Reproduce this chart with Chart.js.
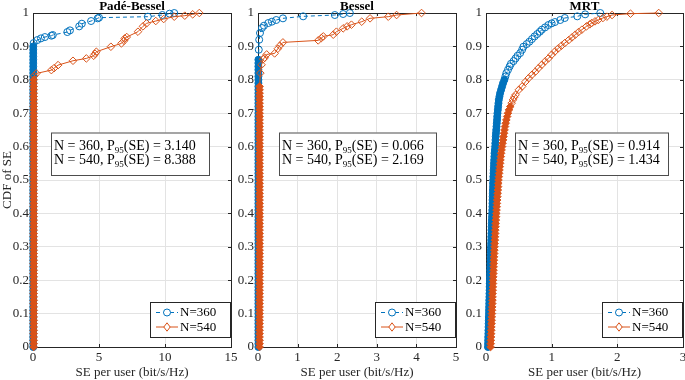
<!DOCTYPE html>
<html>
<head>
<meta charset="utf-8">
<script src="https://cdn.jsdelivr.net/npm/chart.js@4.4.0/dist/chart.umd.min.js"></script>
<style>
  html, body { margin: 0; padding: 0; background: #fff; }
  #wrap { position: relative; width: 685px; height: 380px; }
  #wrap canvas { position: absolute; left: 0; top: 0; }
</style>
</head>
<body>
<div id="wrap">
  <canvas id="pade" width="685" height="380"></canvas>
  <canvas id="bessel" width="685" height="380"></canvas>
  <canvas id="mrt" width="685" height="380"></canvas>
</div>
<script>
// ---- data ----
const panelTitles = ["Padé-Bessel", "Bessel", "MRT"];
const seriesLabels = ["N=360", "N=540"];
const xMax = [15, 5, 3];
const xStep = [5, 1, 1];
const p95N360 = ["3.140", "0.066", "0.914"];
const p95N540 = ["8.388", "2.169", "1.434"];

// CDF levels of the lower part of each curve (one user every ~0.01)
const lowCdf = [0, 0.01, 0.02, 0.03, 0.04, 0.05, 0.06, 0.07, 0.08, 0.09, 0.1, 0.11, 0.12, 0.13, 0.14, 0.15,
  0.16, 0.17, 0.18, 0.19, 0.2, 0.21, 0.22, 0.23, 0.24, 0.25, 0.26, 0.27, 0.28, 0.29, 0.3, 0.31, 0.32, 0.33,
  0.34, 0.35, 0.36, 0.37, 0.38, 0.39, 0.4, 0.41, 0.42, 0.43, 0.44, 0.45, 0.46, 0.47, 0.48, 0.49, 0.5, 0.51,
  0.52, 0.53, 0.54, 0.55, 0.56, 0.57, 0.58, 0.59, 0.6, 0.61, 0.62, 0.63, 0.64, 0.65, 0.66, 0.67, 0.68, 0.69,
  0.7, 0.71, 0.72, 0.73, 0.74, 0.75, 0.76, 0.77, 0.78, 0.79, 0.8, 0.81, 0.82, 0.83, 0.84, 0.85, 0.86, 0.87,
  0.88, 0.89, 0.9];

// [SE of the near-zero users, highest CDF level they reach]
const padeZero360 = [0.02, 0.9];
const padeZero540 = [0.05, 0.8];
const besselZero360 = [0.01, 0.86];
const besselZero540 = [0.04, 0.78];

const padeTail360 = [[0.05, 0.91], [0.33, 0.919], [0.6, 0.924], [0.9, 0.928], [1.4, 0.932], [1.5, 0.934],
  [2.6, 0.943], [2.8, 0.948], [3.5, 0.96], [3.7, 0.968], [4.4, 0.976], [4.9, 0.984], [5.0, 0.986],
  [8.7, 0.989], [9.8, 0.994], [10.35, 0.998], [10.7, 1.0]];
const padeTail540 = [[0.1, 0.812], [0.25, 0.819], [1.39, 0.829], [1.6, 0.835], [1.9, 0.844], [3.03, 0.857],
  [4.04, 0.864], [4.6, 0.872], [4.7, 0.878], [4.8, 0.884], [5.9, 0.899], [6.7, 0.909], [6.9, 0.917],
  [6.95, 0.924], [7.1, 0.928], [7.95, 0.944], [8.33, 0.96], [8.6, 0.969], [9.3, 0.976], [9.9, 0.982],
  [10.7, 0.989], [11.5, 0.992], [12.1, 0.996], [12.6, 1.0]];

const besselTail360 = [[0.02, 0.89], [0.03, 0.92], [0.05, 0.94], [0.1, 0.955], [0.15, 0.962], [0.26, 0.97],
  [0.35, 0.974], [0.46, 0.979], [0.63, 0.984], [1.14, 0.99], [1.94, 0.994], [2.15, 0.997], [2.32, 1.0]];
const besselTail540 = [[0.06, 0.82], [0.09, 0.845], [0.13, 0.862], [0.17, 0.866], [0.22, 0.876], [0.42, 0.879],
  [0.5, 0.893], [0.55, 0.902], [0.63, 0.912], [1.52, 0.918], [1.6, 0.925], [1.65, 0.93], [1.9, 0.935],
  [1.98, 0.944], [2.15, 0.954], [2.25, 0.96], [2.36, 0.965], [2.62, 0.974], [2.83, 0.984], [3.29, 0.989],
  [3.5, 0.994], [4.13, 1.0]];

// MRT: SE at the lowCdf levels, then the upper part as [SE, CDF]
const mrtLow360 = [0.03, 0.031, 0.033, 0.034, 0.036, 0.037, 0.039, 0.04, 0.042, 0.043, 0.045, 0.046, 0.048,
  0.049, 0.05, 0.052, 0.053, 0.055, 0.056, 0.058, 0.06, 0.061, 0.063, 0.064, 0.066, 0.067, 0.069, 0.07,
  0.072, 0.074, 0.076, 0.078, 0.08, 0.081, 0.083, 0.084, 0.086, 0.088, 0.09, 0.092, 0.094, 0.096, 0.098,
  0.099, 0.1, 0.102, 0.104, 0.105, 0.107, 0.108, 0.11, 0.112, 0.115, 0.117, 0.12, 0.122, 0.125, 0.128,
  0.13, 0.135, 0.14, 0.142, 0.145, 0.148, 0.152, 0.156, 0.16, 0.164, 0.168, 0.171, 0.175, 0.18, 0.185,
  0.19, 0.195];
const mrtHigh360 = [[0.205, 0.75], [0.215, 0.76], [0.23, 0.77], [0.245, 0.78], [0.26, 0.79], [0.28, 0.8],
  [0.295, 0.81], [0.31, 0.82], [0.335, 0.83], [0.36, 0.84], [0.38, 0.848], [0.42, 0.856], [0.45, 0.864],
  [0.48, 0.872], [0.52, 0.88], [0.55, 0.89], [0.57, 0.899], [0.62, 0.907], [0.66, 0.914], [0.7, 0.922],
  [0.74, 0.93], [0.78, 0.937], [0.82, 0.944], [0.85, 0.95], [0.9, 0.957], [0.95, 0.964], [1.0, 0.969],
  [1.05, 0.973], [1.13, 0.979], [1.2, 0.985], [1.39, 0.99], [1.51, 0.996], [1.74, 1.0]];
const mrtLow540 = [0.07, 0.072, 0.074, 0.076, 0.078, 0.08, 0.082, 0.084, 0.086, 0.088, 0.09, 0.092, 0.094,
  0.096, 0.098, 0.099, 0.1, 0.102, 0.104, 0.106, 0.108, 0.11, 0.112, 0.114, 0.116, 0.118, 0.12, 0.122,
  0.125, 0.127, 0.13, 0.132, 0.135, 0.137, 0.14, 0.142, 0.145, 0.147, 0.15, 0.153, 0.157, 0.16, 0.163,
  0.166, 0.17, 0.173, 0.177, 0.18, 0.184, 0.187, 0.19, 0.195, 0.2, 0.205, 0.21, 0.215, 0.22, 0.225, 0.23,
  0.237, 0.245, 0.252, 0.26, 0.267, 0.275, 0.282, 0.29, 0.3, 0.31, 0.322, 0.335];
const mrtHigh540 = [[0.35, 0.71], [0.37, 0.72], [0.39, 0.73], [0.41, 0.74], [0.43, 0.748], [0.45, 0.755],
  [0.5, 0.77], [0.55, 0.78], [0.6, 0.794], [0.65, 0.805], [0.7, 0.815], [0.75, 0.824], [0.8, 0.835],
  [0.85, 0.845], [0.9, 0.855], [0.95, 0.864], [1.0, 0.875], [1.05, 0.885], [1.1, 0.894], [1.15, 0.902],
  [1.2, 0.91], [1.26, 0.919], [1.31, 0.927], [1.36, 0.935], [1.41, 0.943], [1.46, 0.95], [1.53, 0.96],
  [1.58, 0.966], [1.61, 0.97], [1.66, 0.975], [1.71, 0.979], [1.78, 0.985], [1.84, 0.989], [1.92, 0.994],
  [2.2, 0.998], [2.63, 1.0]];

// ---- styling / layout ----
const BLUE = "#0072BD";
const ORANGE = "#D95319";
const AXIS = "#262626";
const FONT = '"Liberation Serif", "Times New Roman", serif';

const plotAreas = [
  { left: 33, right: 231, axisW: 33, textBox: [51, 132.5, 158, 42.5] },
  { left: 258, right: 456, axisW: 30, textBox: [279, 132.5, 157, 42.5] },
  { left: 486, right: 683, axisW: 30, textBox: [515, 132.5, 153, 42.5] }
];
const AREA_TOP = 13;
const AREA_BOTTOM = 347;
const CANVAS_W = 685;
const CANVAS_H = 380;

function withStem(zero, tail) {
  const stem = lowCdf.filter(c => c <= zero[1] + 1e-9).map(c => [zero[0], c]);
  return stem.concat(tail);
}
function withLow(low, high) {
  return low.map((x, i) => [x, lowCdf[i]]).concat(high);
}

const panelSeries = [
  [withStem(padeZero360, padeTail360), withStem(padeZero540, padeTail540)],
  [withStem(besselZero360, besselTail360), withStem(besselZero540, besselTail540)],
  [withLow(mrtLow360, mrtHigh360), withLow(mrtLow540, mrtHigh540)]
];
// markers overlap into a solid band below these CDF levels
const solidBelow = [[0.9, 0.8], [0.86, 0.78], [0.8, 0.72]];

function drawP95Line(ctx, x, y, n, val) {
  ctx.font = "14px " + FONT;
  const a = "N = " + n + ", P";
  ctx.fillText(a, x, y);
  x += ctx.measureText(a).width;
  ctx.font = "9px " + FONT;
  ctx.fillText("95", x, y + 3);
  x += ctx.measureText("95").width;
  ctx.font = "14px " + FONT;
  ctx.fillText("(SE) = " + val, x, y);
}

const decor = {
  id: "decor",
  beforeDatasetsDraw(chart, args, o) {
    const { ctx, chartArea: a, scales } = chart;
    ctx.save();
    ctx.strokeStyle = AXIS;
    ctx.lineWidth = 1;
    ctx.strokeRect(a.left + 0.5, a.top + 0.5, a.right - a.left, a.bottom - a.top);
    // inward tick marks on all four sides
    ctx.beginPath();
    scales.x.ticks.forEach(t => {
      const px = Math.round(scales.x.getPixelForValue(t.value)) + 0.5;
      ctx.moveTo(px, a.bottom); ctx.lineTo(px, a.bottom - 3);
      ctx.moveTo(px, a.top); ctx.lineTo(px, a.top + 3);
    });
    scales.y.ticks.forEach(t => {
      const py = Math.round(scales.y.getPixelForValue(t.value)) + 0.5;
      ctx.moveTo(a.left, py); ctx.lineTo(a.left + 3, py);
      ctx.moveTo(a.right, py); ctx.lineTo(a.right - 3, py);
    });
    ctx.stroke();
    ctx.restore();
  },
  afterDatasetsDraw(chart, args, o) {
    const { ctx, chartArea: a } = chart;
    ctx.save();
    // panel title
    ctx.fillStyle = "#000";
    ctx.font = "bold 13px " + FONT;
    ctx.textAlign = "center";
    ctx.textBaseline = "middle";
    ctx.fillText(o.title, (a.left + a.right) / 2, 6.5);

    // P95 text box
    const [bx, by, bw, bh] = o.textBox;
    ctx.fillStyle = "#fff";
    ctx.fillRect(bx, by, bw, bh);
    ctx.strokeStyle = "#4d4d4d";
    ctx.strokeRect(bx + 0.5, by + 0.5, bw, bh);
    ctx.fillStyle = "#000";
    ctx.textAlign = "left";
    ctx.textBaseline = "alphabetic";
    drawP95Line(ctx, bx + 3, by + 17, "360", o.p360);
    drawP95Line(ctx, bx + 3, by + 31, "540", o.p540);

    // legend in the lower right corner
    const lw = 80, lh = 35;
    const lx = a.right - 1 - lw, ly = a.bottom - 10 - lh;
    ctx.fillStyle = "#fff";
    ctx.fillRect(lx, ly, lw, lh);
    ctx.strokeStyle = AXIS;
    ctx.strokeRect(lx + 0.5, ly + 0.5, lw, lh);
    chart.data.datasets.forEach((ds, i) => {
      const ry = ly + 10.5 + i * 14.5;
      const mx = lx + 17;
      ctx.beginPath();
      ctx.setLineDash(ds.borderDash || []);
      ctx.strokeStyle = ds.borderColor;
      ctx.lineWidth = 1;
      ctx.moveTo(lx + 6, ry);
      ctx.lineTo(lx + 28, ry);
      ctx.stroke();
      ctx.setLineDash([]);
      ctx.fillStyle = "#fff";
      ctx.beginPath();
      if (i === 0) {
        ctx.arc(mx, ry, 3.5, 0, Math.PI * 2);
      } else {
        ctx.moveTo(mx, ry - 4.2); ctx.lineTo(mx + 3.2, ry);
        ctx.lineTo(mx, ry + 4.2); ctx.lineTo(mx - 3.2, ry); ctx.closePath();
      }
      ctx.fill();
      ctx.stroke();
      ctx.fillStyle = "#000";
      ctx.font = "13px " + FONT;
      ctx.textBaseline = "middle";
      ctx.fillText(ds.label, lx + 30, ry + 0.5);
    });
    ctx.restore();
  }
};

function makeDataset(points, idx, solid) {
  const color = idx === 0 ? BLUE : ORANGE;
  return {
    label: seriesLabels[idx],
    data: points.map(p => ({ x: p[0], y: p[1] })),
    showLine: true,
    borderColor: color,
    borderWidth: 1,
    borderDash: idx === 0 ? [4, 3] : [],
    pointStyle: idx === 0 ? "circle" : "rectRot",
    pointRadius: idx === 0 ? 3.5 : 3.8,
    pointBorderWidth: 1,
    pointBorderColor: color,
    pointBackgroundColor: ctx => (ctx.raw && ctx.raw.y <= solid + 1e-9) ? color : "rgba(255,255,255,0)",
    order: idx === 0 ? 1 : 0,
    clip: false
  };
}

window.onload = function() {
  const ids = ["pade", "bessel", "mrt"];
  ids.forEach((id, p) => {
    const area = plotAreas[p];
    new Chart(document.getElementById(id), {
      type: "scatter",
      data: {
        datasets: [
          makeDataset(panelSeries[p][0], 0, solidBelow[p][0]),
          makeDataset(panelSeries[p][1], 1, solidBelow[p][1])
        ]
      },
      options: {
        responsive: false,
        animation: false,
        devicePixelRatio: 1,
        layout: {
          autoPadding: false,
          padding: {
            left: area.left - area.axisW,
            right: CANVAS_W - area.right,
            top: AREA_TOP,
            bottom: 0
          }
        },
        scales: {
          x: {
            type: "linear",
            min: 0,
            max: xMax[p],
            afterFit(scale) {
              scale.height = CANVAS_H - AREA_BOTTOM;
              scale.paddingLeft = 0;
              scale.paddingRight = 0;
            },
            ticks: {
              stepSize: xStep[p],
              autoSkip: false,
              maxRotation: 0,
              padding: 3,
              color: AXIS,
              font: { family: FONT, size: 13 }
            },
            grid: { color: "#e3e3e3", drawTicks: false },
            border: { display: false },
            title: {
              display: true,
              text: "SE per user (bit/s/Hz)",
              color: AXIS,
              font: { family: FONT, size: 13 },
              padding: { top: 0, bottom: 0 }
            }
          },
          y: {
            type: "linear",
            min: 0,
            max: 1,
            afterFit(scale) {
              scale.width = area.axisW;
              scale.paddingTop = 0;
              scale.paddingBottom = 0;
            },
            ticks: {
              stepSize: 0.1,
              autoSkip: false,
              padding: 4,
              color: AXIS,
              font: { family: FONT, size: 13 },
              callback: v => String(Math.round(v * 10) / 10)
            },
            grid: { color: "#e3e3e3", drawTicks: false },
            border: { display: false },
            title: {
              display: p === 0,
              text: "CDF of SE",
              color: AXIS,
              font: { family: FONT, size: 13 },
              padding: { top: 0, bottom: 0 }
            }
          }
        },
        plugins: {
          legend: { display: false },
          tooltip: { enabled: false },
          decor: {
            title: panelTitles[p],
            textBox: area.textBox,
            p360: p95N360[p],
            p540: p95N540[p]
          }
        }
      },
      plugins: [decor]
    });
  });
};
</script>
</body>
</html>
